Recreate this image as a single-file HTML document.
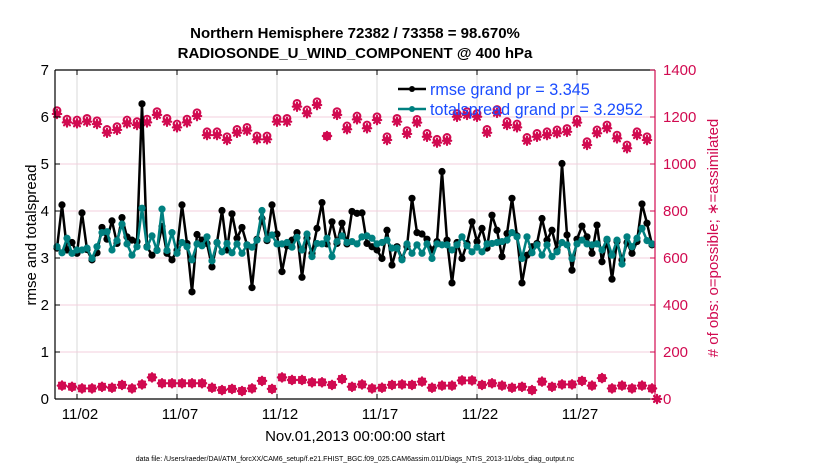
<!DOCTYPE html>
<html><head><meta charset="utf-8">
<style>
html,body{margin:0;padding:0;background:#fff;}
svg{display:block;font-family:"Liberation Sans",sans-serif;}
</style></head>
<body>
<svg id="chart" width="830" height="470" viewBox="0 0 830 470" xmlns="http://www.w3.org/2000/svg">
<rect x="0" y="0" width="830" height="470" fill="#fff"/>
<g id="grid"></g>
<g id="marks"></g>
<g id="axes"></g>
<text x="355" y="38" text-anchor="middle" font-size="15" font-weight="bold">Northern Hemisphere 72382 / 73358 = 98.670%</text>
<text x="355" y="58" text-anchor="middle" font-size="15" font-weight="bold">RADIOSONDE_U_WIND_COMPONENT @ 400 hPa</text>
<text transform="translate(36,235) rotate(-90)" text-anchor="middle" font-size="15">rmse and totalspread</text>
<text transform="translate(718,238) rotate(-90)" text-anchor="middle" font-size="15" fill="#d10a50"># of obs: o=possible; ∗=assimilated</text>
<text x="355" y="441" text-anchor="middle" font-size="15">Nov.01,2013 00:00:00 start</text>
<text x="355" y="461" text-anchor="middle" font-size="7">data file: /Users/raeder/DAI/ATM_forcXX/CAM6_setup/f.e21.FHIST_BGC.f09_025.CAM6assim.011/Diags_NTrS_2013-11/obs_diag_output.nc</text>
<g id="legend">
<g>
<line x1="398" y1="89" x2="426" y2="89" stroke="#000" stroke-width="2.5"/>
<circle cx="412" cy="89" r="3" fill="#000"/>
<text x="430" y="95" font-size="16.2" fill="#1a4cff">rmse grand pr = 3.345</text>
</g>
<g>
<line x1="398" y1="109" x2="426" y2="109" stroke="#008080" stroke-width="2.5"/>
<circle cx="412" cy="109" r="3" fill="#008080"/>
<text x="430" y="115" font-size="16.2" fill="#1a4cff">totalspread grand pr = 3.2952</text>
</g>
</g>
</svg>
<script>
const xTickLabels = ["11/02","11/07","11/12","11/17","11/22","11/27"];
const xTickDays = [1,6,11,16,21,26];
const leftTicks = [0,1,2,3,4,5,6,7];
const rightTicks = [0,200,400,600,800,1000,1200,1400];
const rmse = [3.21,4.13,3.17,3.33,3.10,3.96,3.18,2.96,3.11,3.65,3.40,3.79,3.31,3.86,3.45,3.38,3.35,6.28,3.24,3.06,3.17,3.67,3.10,2.96,3.17,4.13,3.31,2.28,3.50,3.38,3.31,2.81,3.33,4.01,3.17,3.94,3.42,3.65,3.28,2.37,3.40,3.84,3.37,4.13,3.51,2.71,3.26,3.38,3.54,2.59,3.42,3.10,3.63,4.18,3.30,3.77,3.31,3.74,3.30,
3.99,3.95,3.96,3.31,3.24,3.17,2.99,3.59,2.85,3.24,2.99,3.24,4.27,3.54,3.51,3.40,3.17,3.35,4.84,3.38,2.47,3.33,2.99,3.31,3.77,3.35,3.63,3.21,3.91,3.59,3.03,3.52,4.27,3.47,2.47,3.06,3.24,3.31,3.84,3.38,3.59,3.17,5.01,3.49,2.74,3.40,3.68,3.45,3.10,3.70,2.92,3.38,2.55,3.35,2.96,3.33,3.10,3.35,4.15,3.74,3.28];
const spread = [3.24,3.11,3.42,3.10,3.17,3.17,3.21,2.99,3.24,3.54,3.56,3.17,3.37,3.72,3.30,3.06,3.24,4.06,3.23,3.47,3.16,4.04,3.16,3.54,3.10,3.33,3.24,2.96,3.30,3.26,3.45,2.94,3.33,3.13,3.31,3.11,3.30,3.10,3.28,3.23,3.38,4.01,3.40,3.49,3.30,3.30,3.33,3.23,3.44,3.17,3.51,3.03,3.31,3.30,3.42,3.03,3.35,3.47,3.33,
3.35,3.30,3.45,3.47,3.42,3.30,3.33,3.38,3.21,3.21,2.96,3.30,3.10,3.28,3.10,3.30,2.99,3.30,3.28,3.28,3.17,3.28,3.45,3.26,3.13,3.23,3.13,3.30,3.31,3.33,3.35,3.38,3.54,3.45,2.99,3.45,3.11,3.28,3.06,3.28,3.03,3.13,3.33,3.28,2.99,3.30,3.38,3.30,3.28,3.30,3.17,3.40,3.06,3.38,2.87,3.45,3.24,3.42,3.63,3.37,3.30];
const assimTop = [1213,1177,1173,1180,1170,1133,1145,1173,1166,1177,1209,1180,1156,1177,1204,1123,1123,1102,1133,1142,1105,1105,1180,1180,1244,1216,1251,1119,1209,1148,
1190,1152,1187,1102,1180,1128,1176,1116,1091,1099,1201,1209,1201,1133,1218,1166,1156,1099,1116,1123,1131,1137,1176,1081,1131,1152,1109,1067,1123,1102];
const possibleTop = [1227,1191,1187,1194,1184,1147,1159,1187,1180,1191,1223,1194,1170,1191,1218,1137,1137,1116,1147,1156,1119,1119,1194,1194,1258,1230,1265,1119,1223,1162,
1204,1166,1201,1116,1194,1142,1190,1130,1105,1113,1215,1223,1215,1147,1232,1180,1170,1113,1130,1137,1145,1151,1190,1095,1145,1166,1123,1081,1137,1116];
const assimBottom = [57,52,45,45,52,48,60,45,62,92,67,67,67,67,67,48,38,43,34,45,77,43,92,81,81,71,71,60,85,52,
62,45,48,60,62,60,74,48,57,57,79,79,60,67,57,48,52,38,74,52,62,62,77,57,89,45,57,45,57,45];
const finalObsDay = 30.0;
const finalObsValue = 0;

const NS = "http://www.w3.org/2000/svg";
const X0 = 55, X1 = 655, Y0 = 399, Y1 = 70;
const dayMin = -0.1, dayMax = 29.9;
function xScale(d){ return X0 + (d - dayMin) / (dayMax - dayMin) * (X1 - X0); }
function yLeft(v){ return Y0 - v / 7 * (Y0 - Y1); }
function yRight(v){ return Y0 - v / 1400 * (Y0 - Y1); }
function el(tag, attrs, parent){ const e = document.createElementNS(NS, tag); for (const k in attrs) e.setAttribute(k, attrs[k]); parent.appendChild(e); return e; }
const grid = document.getElementById('grid'), marks = document.getElementById('marks'), axes = document.getElementById('axes');
const PINK = "#d10a50";

xTickDays.forEach((d, i) => {
  const g = el('line', {x1: xScale(d), x2: xScale(d), y1: Y1, y2: Y0, stroke: '#d8d8d8', 'stroke-width': 1}, grid);
  
  
});
rightTicks.forEach(v => {
  const g = el('line', {x1: X0, x2: X1, y1: yRight(v), y2: yRight(v), stroke: '#f3cfdc', 'stroke-width': 1}, grid);
  
  
});

function series(vals, color, name){
  const pts = vals.map((v, i) => xScale(i * 0.25) + ',' + yLeft(v)).join(' ');
  const pl = el('polyline', {points: pts, fill: 'none', stroke: color, 'stroke-width': 2.5, 'stroke-linejoin': 'round'}, marks);
  
  
  vals.forEach((v, i) => {
    const c = el('circle', {cx: xScale(i * 0.25), cy: yLeft(v), r: 3.6, fill: color}, marks);
    
    
  });
}
function star(cx, cy, name){
  const g = el('g', {stroke: PINK, 'stroke-width': 2.2, 'stroke-linecap': 'round'}, marks);
  
  
  const r = 4.2;
  el('line', {x1: cx - r, y1: cy, x2: cx + r, y2: cy}, g);
  el('line', {x1: cx, y1: cy - r, x2: cx, y2: cy + r}, g);
  el('line', {x1: cx - r*0.7, y1: cy - r*0.7, x2: cx + r*0.7, y2: cy + r*0.7}, g);
  el('line', {x1: cx - r*0.7, y1: cy + r*0.7, x2: cx + r*0.7, y2: cy - r*0.7}, g);
  el('circle', {cx: cx, cy: cy, r: 2.5, fill: PINK, stroke: 'none'}, g);
}
function ring(cx, cy, name){
  const c = el('circle', {cx: cx, cy: cy, r: 3.4, fill: 'none', stroke: PINK, 'stroke-width': 2}, marks);
  
  
}
possibleTop.forEach((v, j) => ring(xScale(j * 0.5), yRight(v), 'possible-obs-marker'));
assimTop.forEach((v, j) => star(xScale(j * 0.5), yRight(v), 'assimilated-obs-marker'));
assimBottom.forEach((v, j) => { ring(xScale(0.25 + j * 0.5), yRight(v), 'possible-obs-marker-bottom'); star(xScale(0.25 + j * 0.5), yRight(v), 'assimilated-obs-marker-bottom'); });
star(xScale(finalObsDay), yRight(finalObsValue), 'final-obs-marker');
series(rmse, '#000', 'rmse');
series(spread, '#008080', 'totalspread');

const spines = [
  {x1: X0, y1: Y0, x2: X1, y2: Y0, c: '#000', n: 'x-axis-line'},
  {x1: X0, y1: Y1, x2: X1, y2: Y1, c: '#000', n: 'top-border'},
  {x1: X0, y1: Y1, x2: X0, y2: Y0, c: '#000', n: 'left-y-axis-line'},
  {x1: X1, y1: Y1, x2: X1, y2: Y0, c: PINK, n: 'right-y-axis-line'}
];
spines.forEach(s => {
  const l = el('line', {x1: s.x1, y1: s.y1, x2: s.x2, y2: s.y2, stroke: s.c, 'stroke-width': 1.2}, axes);
  
  
});
xTickDays.forEach((d, i) => {
  const x = xScale(d);
  el('line', {x1: x, x2: x, y1: Y0, y2: Y0 - 5, stroke: '#000'}, axes);
  el('line', {x1: x, x2: x, y1: Y1, y2: Y1 + 5, stroke: '#000'}, axes);
  const t = el('text', {x: x + 3, y: 419, 'text-anchor': 'middle', 'font-size': 15}, axes);
  t.textContent = xTickLabels[i];
  
  
});
leftTicks.forEach(v => {
  const y = yLeft(v);
  el('line', {x1: X0, x2: X0 + 5, y1: y, y2: y, stroke: '#000'}, axes);
  const t = el('text', {x: 49, y: y + 5, 'text-anchor': 'end', 'font-size': 15}, axes);
  t.textContent = v;
  
  
});
rightTicks.forEach(v => {
  const y = yRight(v);
  el('line', {x1: X1 - 5, x2: X1, y1: y, y2: y, stroke: PINK}, axes);
  const t = el('text', {x: 663, y: y + 5, 'text-anchor': 'start', 'font-size': 15, fill: PINK}, axes);
  t.textContent = v;
  
  
});
</script>
</body></html>
